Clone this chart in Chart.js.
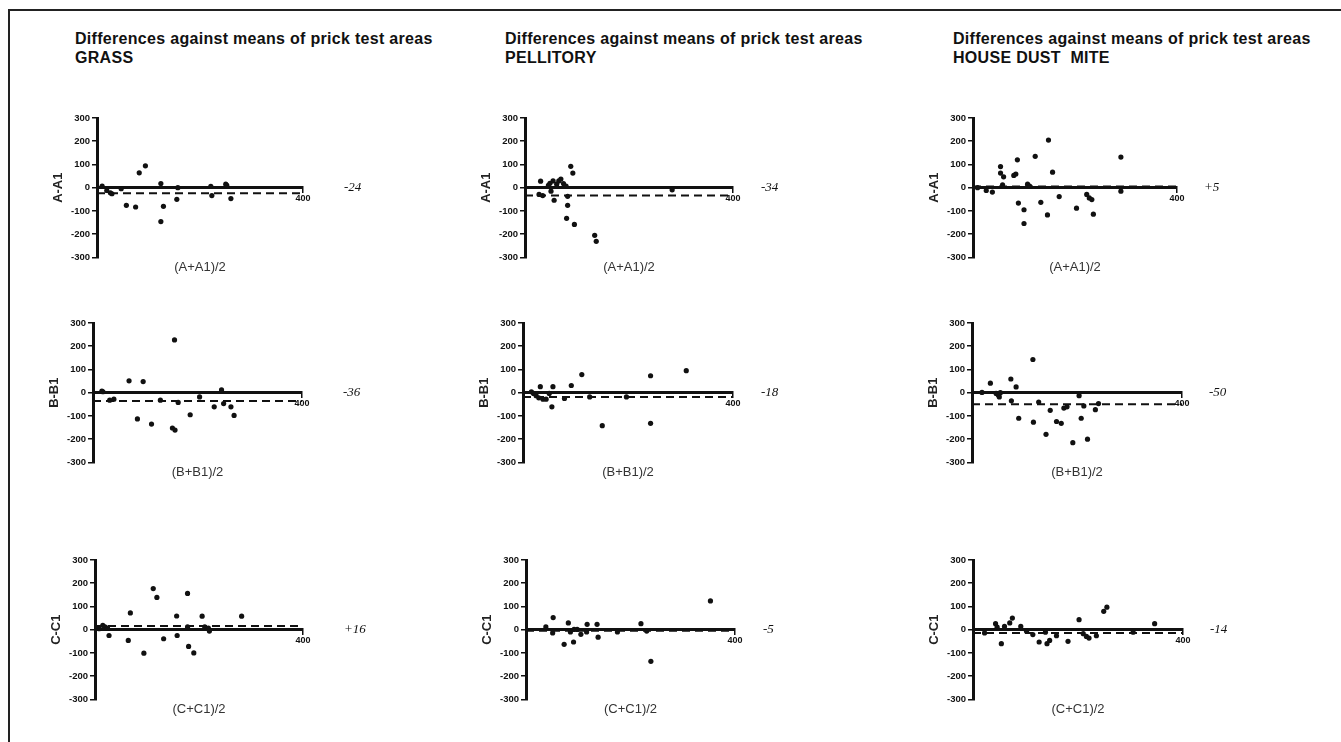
<!DOCTYPE html>
<html>
<head>
<meta charset="utf-8">
<script src="https://cdn.jsdelivr.net/npm/chart.js@4.4.1/dist/chart.umd.min.js"></script>
<style>
  html, body { margin: 0; padding: 0; background: #fff; }
  body { width: 1341px; height: 742px; position: relative; overflow: hidden; font-family: "Liberation Sans", Arial, sans-serif; }
  .frame { position: absolute; left: 8px; top: 9px; right: -4px; bottom: -4px; border-top: 2px solid #222; border-left: 2px solid #222; }
  .title { position: absolute; top: 29px; font-weight: bold; font-size: 16px; line-height: 19px; color: #111; white-space: pre; letter-spacing: 0.3px; }
  .panel { position: absolute; }
</style>
</head>
<body>
<div class="frame"></div>
<div id="titles"></div>
<div id="panels"></div>

<script>
/* ── Data ──────────────────────────────────────────────────────────────
   Each point is [mean of the two areas, difference between them].      */
const allergens  = ["GRASS", "PELLITORY", "HOUSE DUST  MITE"];
const diffLabels = ["A-A1", "B-B1", "C-C1"];
const meanLabels = ["(A+A1)/2", "(B+B1)/2", "(C+C1)/2"];

const grassA = [[10,7],[19,-12],[26,-22],[29,-26],[47,-4],[57,-76],[75,-83],[82,64],[94,94],[124,18],[124,-146],[129,-80],[155,-50],[157,0],[221,6],[223,-34],[250,15],[252,10],[260,-47]];
const pellitoryA = [[27,-29],[30,28],[34,-34],[45,10],[48,19],[50,-15],[54,29],[56,-54],[61,15],[65,29],[69,37],[74,18],[79,7],[82,-37],[82,-76],[80,-132],[88,92],[92,63],[95,-158],[134,-205],[137,-231],[283,-9]];
const mitesA = [[9,0],[26,-12],[38,-19],[54,91],[54,63],[60,47],[58,12],[80,53],[84,59],[87,120],[89,-66],[100,-95],[100,-154],[107,15],[111,7],[122,135],[133,-63],[146,-117],[148,205],[156,67],[169,-38],[203,-88],[223,-29],[228,-44],[233,-51],[236,-114],[290,132],[290,-15]];

const grassB = [[17,7],[19,4],[32,-32],[40,-28],[69,51],[85,-113],[96,48],[112,-135],[129,-32],[152,-152],[157,-161],[156,227],[163,-42],[186,-95],[204,-18],[232,-61],[246,12],[250,-47],[264,-61],[270,-98]];
const pellitoryB = [[16,4],[20,-3],[25,-13],[30,-22],[33,26],[38,-28],[44,-28],[50,-3],[55,-61],[57,26],[79,-25],[92,31],[112,78],[127,-18],[151,-142],[197,-18],[243,73],[243,-132],[311,95]];
const mitesB = [[19,1],[35,41],[46,-3],[50,-10],[52,-18],[54,0],[74,59],[75,-35],[84,25],[89,-110],[116,143],[117,-127],[127,-40],[141,-179],[149,-76],[161,-124],[170,-132],[175,-66],[181,-61],[192,-215],[204,-13],[208,-110],[213,-57],[220,-200],[235,-73],[241,-47]];

const grassC = [[8,4],[15,19],[19,12],[24,7],[27,-25],[64,-46],[68,72],[94,-101],[112,177],[119,139],[132,-39],[157,59],[158,-25],[178,156],[178,12],[180,-72],[190,-100],[206,58],[211,12],[218,7],[220,-6],[282,58]];
const pellitoryC = [[38,12],[51,-14],[52,52],[73,-63],[81,29],[85,-10],[91,-53],[92,1],[98,1],[105,-20],[116,-10],[117,23],[136,23],[138,-32],[175,-10],[220,26],[231,-6],[239,-136],[353,124]];
const mitesC = [[22,-14],[43,26],[46,11],[54,-60],[60,14],[70,29],[75,50],[91,14],[102,-7],[114,-21],[126,-53],[138,-11],[141,-60],[146,-46],[159,-26],[181,-50],[202,43],[210,-17],[216,-29],[221,-36],[235,-26],[249,79],[255,97],[305,-11],[346,26]];

/* rows = test site (A, B, C), columns = allergen */
const panelData = [
  [grassA, pellitoryA, mitesA],
  [grassB, pellitoryB, mitesB],
  [grassC, pellitoryC, mitesC],
];
const meanDiffs = [
  [-24, -34, 5],
  [-36, -18, -50],
  [16, -5, -14],
];

const xMin = 0, xMax = 400;
const yMin = -300, yMax = 300, yStep = 100;

/* ── Layout (pixels) ───────────────────────────────────────────────── */
const colTitleX = [75, 505, 953];
const colAxisX  = [[97, 525, 973], [93, 523, 972], [95, 526, 973]];
const colPlotW  = [[206, 208, 204], [209, 210, 210], [208, 209, 210]];
const rowTop    = [118, 323, 560];
const plotH     = 139;
const labelGap  = [41, 28, 27];

const Y_AXIS_W = 46, PAD_TOP = 8, PAD_RIGHT = 70, X_TITLE_H = 18, PAD_BOTTOM = 2;
const INK = "#111";

/* ── Titles ────────────────────────────────────────────────────────── */
allergens.forEach((a, c) => {
  const t = document.createElement("div");
  t.className = "title";
  t.style.left = colTitleX[c] + "px";
  t.textContent = "Differences against means of prick test areas\n" + a;
  document.getElementById("titles").appendChild(t);
});

/* ── Mean value written beside each plot ───────────────────────────── */
const meanLabelPlugin = {
  id: "meanLabel",
  afterDraw(chart, args, opts) {
    const { ctx, chartArea, scales } = chart;
    ctx.save();
    ctx.font = "italic 13px 'Liberation Serif', 'Times New Roman', serif";
    ctx.fillStyle = "#111";
    ctx.textBaseline = "middle";
    ctx.textAlign = "left";
    ctx.fillText(opts.text, chartArea.right + opts.gap, scales.y.getPixelForValue(0));
    ctx.restore();
  },
};

function buildPanel(r, c) {
  const plotW = colPlotW[r][c];
  const w = Y_AXIS_W + plotW + PAD_RIGHT;
  const h = PAD_TOP + plotH + X_TITLE_H + PAD_BOTTOM;

  const box = document.createElement("div");
  box.className = "panel";
  box.style.left = (colAxisX[r][c] - Y_AXIS_W) + "px";
  box.style.top = (rowTop[r] - PAD_TOP) + "px";
  const cv = document.createElement("canvas");
  cv.width = w; cv.height = h;
  cv.style.width = w + "px"; cv.style.height = h + "px";
  box.appendChild(cv);
  document.getElementById("panels").appendChild(box);

  const m = meanDiffs[r][c];
  const pts = panelData[r][c].map(([x, y]) => ({ x, y }));

  new Chart(cv, {
    type: "scatter",
    data: {
      datasets: [
        {
          data: pts,
          pointRadius: 2.6,
          pointBackgroundColor: INK,
          pointBorderWidth: 0,
        },
        {
          data: [{ x: xMin, y: m }, { x: xMax, y: m }],
          showLine: true,
          borderColor: INK,
          borderWidth: 2,
          borderDash: [8, 5],
          pointRadius: 0,
        },
      ],
    },
    options: {
      responsive: false,
      animation: false,
      devicePixelRatio: 1,
      layout: { padding: { top: PAD_TOP, right: PAD_RIGHT, bottom: PAD_BOTTOM, left: 0 } },
      plugins: {
        legend: { display: false },
        tooltip: { enabled: false },
        meanLabel: { text: (m > 0 ? "+" : "") + m, gap: labelGap[c] },
      },
      scales: {
        x: {
          type: "linear",
          min: xMin, max: xMax,
          position: { y: 0 },
          afterBuildTicks: (s) => { s.ticks = [{ value: xMax }]; },
          grid: { drawOnChartArea: false, drawTicks: true, tickLength: 4, color: INK, lineWidth: 1.5 },
          border: { display: true, color: INK, width: 3 },
          ticks: { color: INK, font: { size: 9, weight: "bold", family: "'Liberation Sans', Arial" }, padding: 1, maxRotation: 0 },
        },
        x2: {
          type: "linear",
          axis: "x",
          position: "bottom",
          min: xMin, max: xMax,
          display: true,
          grid: { display: false, drawTicks: false },
          border: { display: false },
          ticks: { display: false },
          title: {
            display: true,
            text: meanLabels[r],
            color: "#333",
            font: { size: 13, family: "'Liberation Sans', Arial" },
            padding: { top: 2, bottom: 0 },
          },
        },
        y: {
          type: "linear",
          min: yMin, max: yMax,
          position: "left",
          afterFit: (s) => { s.width = Y_AXIS_W; },
          ticks: { stepSize: yStep, color: INK, font: { size: 9.5, weight: "bold", family: "'Liberation Sans', Arial" }, padding: 2 },
          grid: { drawOnChartArea: false, drawTicks: true, tickLength: 5, color: INK, lineWidth: 1.5 },
          border: { display: true, color: INK, width: 3 },
          title: {
            display: true,
            text: diffLabels[r],
            color: "#222",
            font: { size: 13, weight: "bold", family: "'Liberation Sans', Arial" },
            padding: { top: 0, bottom: 0 },
          },
        },
      },
    },
    plugins: [meanLabelPlugin],
  });
}

for (let r = 0; r < 3; r++) {
  for (let c = 0; c < 3; c++) buildPanel(r, c);
}
</script>
</body>
</html>
